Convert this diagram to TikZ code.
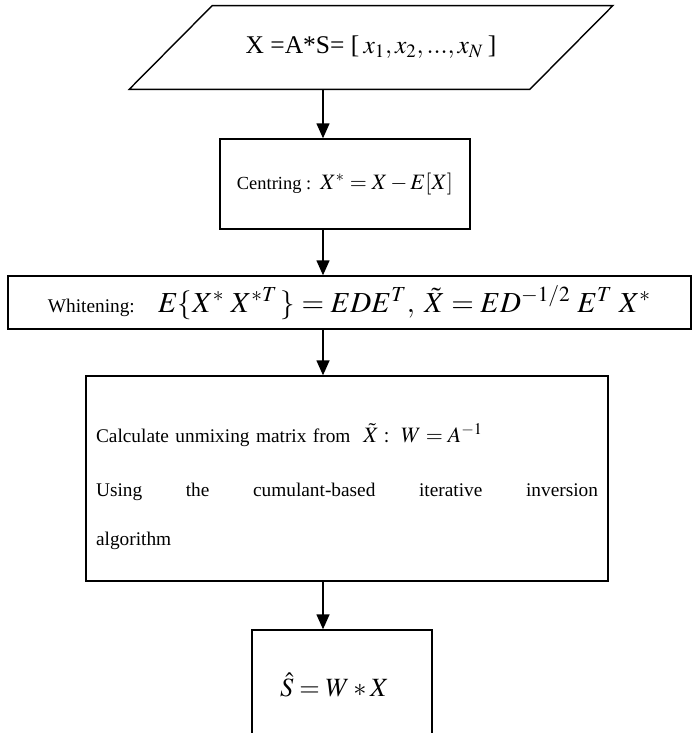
\documentclass[tikz,border=0pt]{standalone}
\usepackage{mathptmx}
\usepackage{fontspec}
\setmainfont{Liberation Serif}
\usetikzlibrary{arrows.meta}
\newcommand{\mth}[2][13]{{\fontsize{#1}{#1}\selectfont$#2$}}

\begin{document}
\begin{tikzpicture}[
  x=0.02cm, y=-0.02cm,
  font=\fontsize{10.5}{13}\selectfont,
  bx/.style ={draw, line width=0.8pt, inner sep=0pt, align=center},
  ar/.style ={-{Triangle[length=3mm,width=2.6mm]}, line width=0.8pt}
]
\useasboundingbox (0,0) rectangle (699,733);
\clip (0,0) rectangle (699,733);

% all arrows run down one vertical line
\coordinate (spine) at (323,0);

% input: the node holds the text, its slanted frame is drawn on its corners
\node[minimum width=8cm, minimum height=1.66cm, inner sep=0pt] (inp) at (371,47.5)
  {\fontsize{14.5}{16}\selectfont X =A*S= [\,$x_1,x_2,...,x_N$\,]\hspace{0.5cm}};
\draw[line width=0.8pt] ([xshift=-0.83cm]inp.south west) -- ([xshift=0.83cm]inp.north west)
  -- ([xshift=0.83cm]inp.north east) -- ([xshift=-0.83cm]inp.south east) -- cycle;

\node[bx, minimum width=5cm, minimum height=1.8cm] (cen) at (345,184)
  {Centring :\ \ \mth[12.5]{X^{*}=X-E[X]}};
\node[bx, minimum width=13.66cm, minimum height=1.06cm] (wht) at (349.5,302.5)
  {\fontsize{11}{13}\selectfont Whitening:\hspace{1.2em}%
   \mth[16.5]{E\{X^{*}\;X^{*T}\,\}=EDE^{T},\;\tilde{X}=ED^{-1/2}\;E^{T}\;X^{*}}};
\node[bx, minimum width=10.44cm, minimum height=4.1cm, text width=10.04cm, align=left,
      font=\fontsize{11}{28}\selectfont] (unm) at (347,478.5)
  {\rule{0pt}{20pt}Calculate unmixing matrix from\ \ \mth[12.5]{\tilde{X}:\ W=A^{-1}}\\[3pt]
   \makebox[10.04cm]{Using\hfill the\hfill cumulant-based\hfill iterative\hfill inversion}\\
   algorithm};
\node[bx, minimum width=3.6cm, minimum height=2.2cm] (est) at (342,685)
  {\mth[15]{\hat{S}=W*X}\hspace{0.3cm}};

\draw[ar] (inp.south -| spine) -- (cen.north -| spine);
\draw[ar] (cen.south -| spine) -- (wht.north -| spine);
\draw[ar] (wht.south -| spine) -- (unm.north -| spine);
\draw[ar] (unm.south -| spine) -- (est.north -| spine);
\end{tikzpicture}
\end{document}
